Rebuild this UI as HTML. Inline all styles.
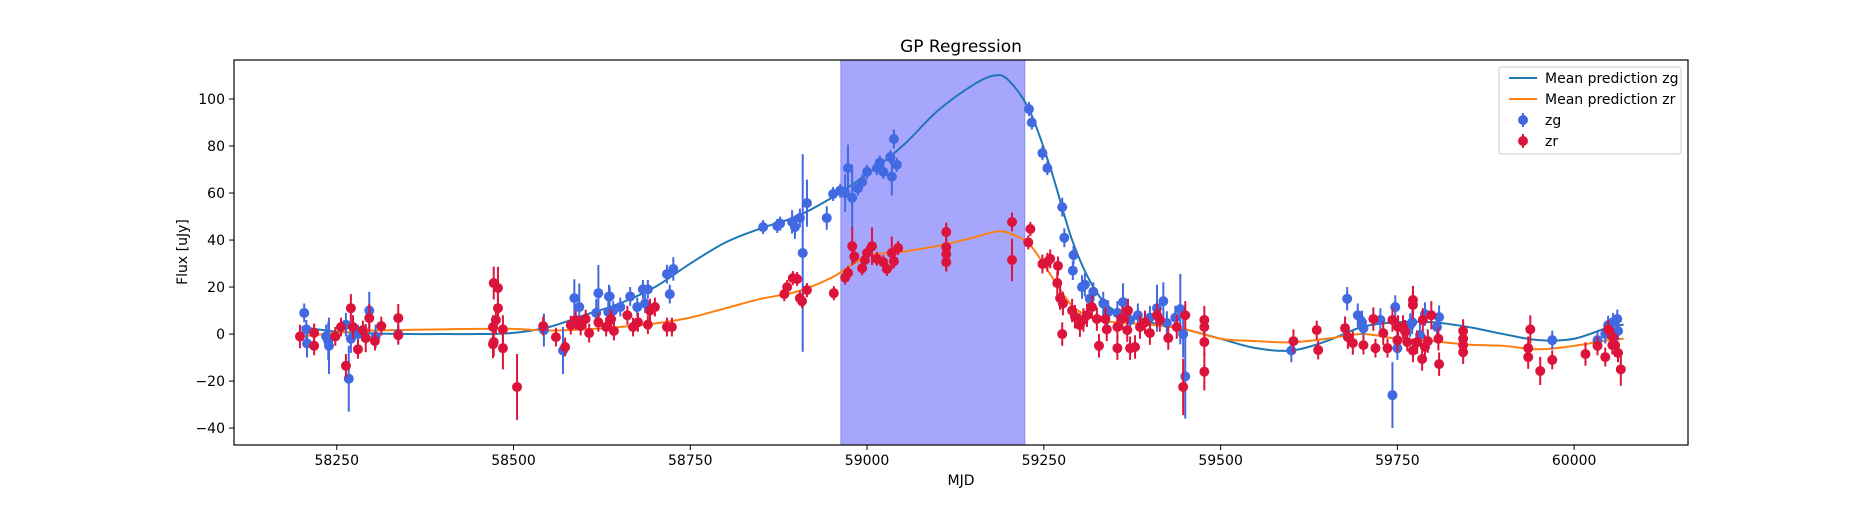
<!DOCTYPE html>
<html><head><meta charset="utf-8">
<style>
body{margin:0;background:#fff;}
svg text{font-family:"DejaVu Sans","Liberation Sans",sans-serif;fill:#000;}
</style></head>
<body>
<svg id="chart" width="1875" height="500" viewBox="0 0 1875 500" xmlns="http://www.w3.org/2000/svg">
<rect width="1875" height="500" fill="#fff"/>
<g id="plot"></g>
</svg>
<script>
const xTicks=[58250,58500,58750,59000,59250,59500,59750,60000];
const yTicks=[-40,-20,0,20,40,60,80,100];
const spanRange=[58963,59223];
const zgMjd=[58204,58207,58208,58235,58238,58239,58263,58267,58270,58280,58296,58305,58337,58543,58570,58586,58593,58620,58617,58635,58634,58636,58641,58651,58665,58675,58683,58690,58686,58717,58726,58721,58853,58873,58877,58894,58898,58905,58909,58915,58943,58952,58962,58969,58973,58979,58987,58993,59000,59014,59018,59023,59033,59035,59038,59042,59229,59233,59248,59255,59276,59279,59292,59291,59304,59308,59320,59315,59334,59341,59354,59362,59372,59383,59400,59410,59419,59424,59436,59443,59447,59450,59600,59679,59694,59700,59702,59726,59743,59747,59750,59771,59768,59782,59789,59806,59809,59969,60033,60044,60048,60055,60061,60062];
const zgFlux=[9,2,-4,-1,-3,-5,4,-19,-2,0,10,-1,0,1.7,-7,15.3,11.5,17.4,9,16,9.4,16,10,11.5,16,11.5,19,19,13,25.5,27.7,17,45.5,46,47,47.7,45.5,49.4,34.5,55.7,49.4,59.6,61,60,70.6,58,62,64.7,69,70.6,73,69,75.3,67,83,72,95.7,90,77,70.6,54,41,33.6,27,20,21,18,15,13,9.4,9,13.6,6,8,7,11,14,4.7,7,10.6,0,-18,-7,15,8,5,2.5,6,-26,11.5,-6,5,3.8,-0.4,8.5,3,7.2,-2.6,-2.6,0,3.8,5,6.4,1.3];
const zgErr=[4,4,6,5,8,12,5,14,6,4,8,5,4,7,10,8,10,12,6,5,6,4,4,4,4,4,4,4,4,4,5,4,3,3,3,5,5,4,42,10,5,3,3,8,10,14,3,3,3,3,3,3,3,8,4,3,3,3,3,3,4,4,4,4,5,5,4,4,5,5,5,8,5,5,5,10,8,5,5,15,10,18,5,5,5,5,5,5,14,5,5,5,5,5,5,5,5,4,4,4,4,4,4,4];
const zrMjd=[58198,58218,58218,58248,58256,58263,58270,58273,58280,58287,58291,58296,58304,58313,58337,58337,58472,58478,58478,58475,58471,58472,58471,58485,58485,58505,58542,58560,58573,58581,58588,58595,58602,58607,58620,58631,58638,58642,58637,58661,58669,58676,58690,58693,58700,58717,58724,58883,58887,58895,58901,58905,58908,58915,58953,58969,58973,58979,58982,58993,58997,59000,59007,59014,59023,59028,59035,59038,59044,59112,59112,59112,59112,59205,59205,59231,59228,59248,59255,59259,59270,59269,59273,59276,59277,59290,59294,59301,59306,59311,59318,59325,59328,59337,59339,59354,59354,59361,59368,59369,59372,59379,59386,59393,59400,59410,59414,59426,59438,59450,59447,59477,59477,59477,59477,59603,59636,59638,59676,59680,59687,59702,59716,59719,59730,59736,59743,59750,59751,59761,59758,59764,59772,59772,59772,59778,59785,59786,59789,59793,59798,59808,59809,59843,59843,59843,59843,59938,59935,59935,59952,59969,60016,60033,60044,60048,60055,60054,60058,60062,60066];
const zrFlux=[-1,0.5,-5,-1,3,-13.5,11,3,-6.5,1.7,-1.7,6.8,-3,3.4,6.8,-0.5,21.7,19.6,11,6,3,-3.4,-4.3,2,-6,-22.5,3.4,-1.3,-5.5,3.8,6,3.4,6.4,0.4,5,3,6.4,1.3,6,8,3,5,4,10,11.5,3,3,17,20,23.8,23.4,15.3,14,18.7,17.4,24,26,37.4,33,28,31.5,34.5,37.4,32,30.6,27.7,34.5,31,36.6,43.4,37,34,30.6,47.7,31.5,44.7,39,29.8,30.6,32,29,21.7,15.3,0,13,10,7.4,3.8,6,8,11.5,6.4,-5,6.4,2,3,-6,6.8,1.7,10,-6,-5.5,3,5,0.4,8,6,-1.7,3,8,-22.5,6,3,-3.4,-16,-3,1.7,-6.8,2.5,-1.3,-3.8,-4.7,6.4,-6,0.4,-6,6,-2.6,3,1,3,-3.4,14.5,12.4,-7,-3.4,-10.6,6,-5.5,-3,8,-2,-12.8,1.3,-2,-4.7,-7.7,2,-6,-9.8,-15.7,-11,-8.5,-5,-9.8,2,-1.3,-4.7,-4.7,-8,-15];
const zrErr=[5,4,4,4,4,5,6,5,4,4,6,6,4,4,6,4,7,9,7,6,5,6,6,6,9,14,4,4,4,4,4,4,4,4,4,4,4,4,4,4,4,4,4,5,4,4,4,3,3,3,3,3,3,3,3,3,3,8,3,3,3,3,8,3,3,3,7,3,3,4,10,4,4,4,9,3,3,4,4,4,4,5,5,5,5,5,5,5,5,5,5,5,5,5,5,5,5,5,5,5,5,5,5,5,5,5,5,5,5,6,12,6,5,6,8,5,4,4,5,5,5,4,5,4,5,4,5,5,5,5,5,4,6,6,5,5,5,5,5,5,6,5,5,5,5,5,5,6,5,5,6,4,5,4,4,4,4,4,5,4,7];
const gpMjd=[58200,58250,58300,58350,58400,58450,58500,58550,58600,58650,58700,58750,58800,58850,58900,58950,59000,59050,59100,59150,59180,59200,59230,59260,59290,59320,59350,59400,59450,59500,59550,59600,59650,59700,59750,59800,59850,59900,59950,60000,60050,60070];
const gpZg=[3,1,0.3,0,0,0,0.5,3,8,13,20,30,39,45,50,58,68,80,95,106,110,108,95,70,40,20,10,5,2,-2,-6,-7,-3,3,5,5,3,0,-2.6,-2,3,4];
const gpZr=[-1,0.5,1.5,1.8,2,2.2,2.2,1.5,2,3,4.5,7,11,15,18,24,33,35,37.5,41,43.5,43,38,25,12,7,5,4,2,-2,-3,-3.5,-2,0,-2,-3,-4.5,-5,-6.5,-5,-2.5,-2];

const L=234,R=1688,T=60,B=445,X0=58104.7,X1=60161,Y0=-47.2,Y1=116.6;
const sx=v=>L+(v-X0)/(X1-X0)*(R-L);
const sy=v=>B-(v-Y0)/(Y1-Y0)*(B-T);
const NS="http://www.w3.org/2000/svg";
const plot=document.getElementById('plot');
function mk(tag,attrs,parent){const e=document.createElementNS(NS,tag);for(const k in attrs)e.setAttribute(k,attrs[k]);(parent||plot).appendChild(e);return e;}

// span
const sp=mk('rect',{x:sx(spanRange[0]),y:T,width:sx(spanRange[1])-sx(spanRange[0]),height:B-T,fill:'#a6a6fc',stroke:'#8a8af0','stroke-width':1});



function smooth(xs,ys){let pts=xs.map((x,i)=>[sx(x),sy(ys[i])]);let d='M'+pts[0][0]+','+pts[0][1];
for(let i=0;i<pts.length-1;i++){const p0=pts[Math.max(0,i-1)],p1=pts[i],p2=pts[i+1],p3=pts[Math.min(pts.length-1,i+2)];
const c1=[p1[0]+(p2[0]-p0[0])/6,p1[1]+(p2[1]-p0[1])/6],c2=[p2[0]-(p3[0]-p1[0])/6,p2[1]-(p3[1]-p1[1])/6];
d+=` C${c1[0]},${c1[1]} ${c2[0]},${c2[1]} ${p2[0]},${p2[1]}`;}return d;}
const lz=mk('path',{d:smooth(gpMjd,gpZg),fill:'none',stroke:'#1f77b4','stroke-width':2});


const lr=mk('path',{d:smooth(gpMjd,gpZr),fill:'none',stroke:'#ff7f0e','stroke-width':2});



function series(ms,fs,es,col,name){const g=mk('g',{});


ms.forEach((m,i)=>{const x=sx(m);
const ln=mk('line',{x1:x,x2:x,y1:sy(fs[i]-es[i]),y2:sy(fs[i]+es[i]),stroke:col,'stroke-width':2},g);


const c=mk('circle',{cx:x,cy:sy(fs[i]),r:5,fill:col},g);

});}
series(zgMjd,zgFlux,zgErr,'#4169e1','zg');
series(zrMjd,zrFlux,zrErr,'#dc143c','zr');

// frame
const fr=mk('rect',{x:L,y:T,width:R-L,height:B-T,fill:'none',stroke:'#000','stroke-width':1.2});


xTicks.forEach(v=>{const x=sx(v);
const t=mk('line',{x1:x,x2:x,y1:B,y2:B+5,stroke:'#000','stroke-width':1});


const tx=mk('text',{x:x,y:B+20,'text-anchor':'middle','font-size':14});tx.textContent=v;

});
yTicks.forEach(v=>{const y=sy(v);
const t=mk('line',{x1:L-5,x2:L,y1:y,y2:y,stroke:'#000','stroke-width':1});


const tx=mk('text',{x:L-9,y:y+5,'text-anchor':'end','font-size':14});tx.textContent=(v<0?'\u2212'+(-v):v);

});
</script>
<svg style="position:absolute;left:0;top:0" width="1875" height="500">
<text x="961" y="52" text-anchor="middle" font-size="17">GP Regression</text>
<text x="961" y="485" text-anchor="middle" font-size="14">MJD</text>
<text x="187" y="252" text-anchor="middle" font-size="14" transform="rotate(-90 187 252)">Flux [uJy]</text>
<g>
<rect x="1499" y="67" width="182" height="87" rx="3" fill="#fff" fill-opacity="0.8" stroke="#ccc"/>
<line x1="1509" x2="1537" y1="78" y2="78" stroke="#1f77b4" stroke-width="2"/>
<text x="1545" y="83" font-size="14">Mean prediction zg</text>
<line x1="1509" x2="1537" y1="99" y2="99" stroke="#ff7f0e" stroke-width="2"/>
<text x="1545" y="104" font-size="14">Mean prediction zr</text>
<line x1="1523" x2="1523" y1="113" y2="127" stroke="#4169e1" stroke-width="2"/>
<circle cx="1523" cy="120" r="5" fill="#4169e1"/>
<text x="1545" y="125" font-size="14">zg</text>
<line x1="1523" x2="1523" y1="134" y2="148" stroke="#dc143c" stroke-width="2"/>
<circle cx="1523" cy="141" r="5" fill="#dc143c"/>
<text x="1545" y="146" font-size="14">zr</text>
</g>
</svg>
</body></html>
